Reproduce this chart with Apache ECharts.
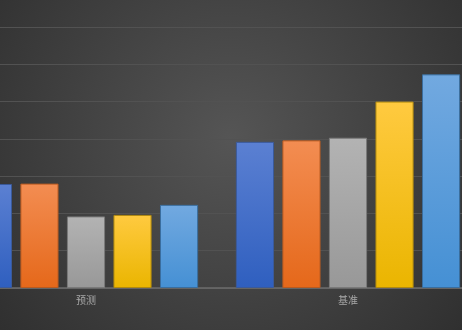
<!DOCTYPE html>
<html>
<head>
<meta charset="utf-8">
<script src="https://cdn.jsdelivr.net/npm/echarts@6/dist/echarts.min.js"></script>
<style>html,body{margin:0;padding:0;background:#3a3a3a}#c{width:462px;height:330px}</style>
</head>
<body>
<div id="c"></div>
<script>
var categories = ['预测', '基准'];
var series1 = [2.79, 3.92];
var series2 = [2.80, 3.96];
var series3 = [1.92, 4.03];
var series4 = [1.96, 5.00];
var series5 = [2.23, 5.73];
var yTicks = [0, 1, 2, 3, 4, 5, 6, 7];

var palette = [
  ['#5b80d2', '#2f5fbf', '#3a5a9a'],
  ['#f38d52', '#e5681a', '#b85a20'],
  ['#b3b3b3', '#989898', '#7a7a7a'],
  ['#ffca40', '#eab500', '#b08a10'],
  ['#72a9e0', '#4590d4', '#3a6e9e']
];
function grad(c) {
  return new echarts.graphic.LinearGradient(0, 0, 0, 1, [
    {offset: 0, color: c[0]}, {offset: 1, color: c[1]}
  ]);
}
var data = [series1, series2, series3, series4, series5];
var chart = echarts.init(document.getElementById('c'));
chart.setOption({
  backgroundColor: {
    type: 'radial', x: 0.5, y: 0.42, r: 0.95,
    colorStops: [{offset: 0, color: '#555555'}, {offset: 1, color: '#2e2e2e'}]
  },
  animation: false,
  grid: {left: -45, right: -17, top: 27, bottom: 42, outerBoundsMode: 'none', containLabel: false},
  xAxis: {
    type: 'category', data: categories,
    axisLine: {lineStyle: {color: '#6c6c6c', width: 1.5}},
    axisTick: {show: false},
    axisLabel: {color: '#a8a8a8', fontSize: 10, margin: 7, fontFamily: 'Noto Sans CJK SC'}
  },
  yAxis: {
    type: 'value', min: yTicks[0], max: yTicks[yTicks.length - 1], interval: 1,
    axisLabel: {show: false},
    axisLine: {show: false}, axisTick: {show: false},
    splitLine: {lineStyle: {color: '#525252', width: 1}}
  },
  series: data.map(function (d, i) {
    return {
      type: 'bar', data: d,
      barGap: '22%', barCategoryGap: '14.4%',
      itemStyle: {color: grad(palette[i]), borderColor: palette[i][2], borderWidth: 1}
    };
  })
});
</script>
</body>
</html>
